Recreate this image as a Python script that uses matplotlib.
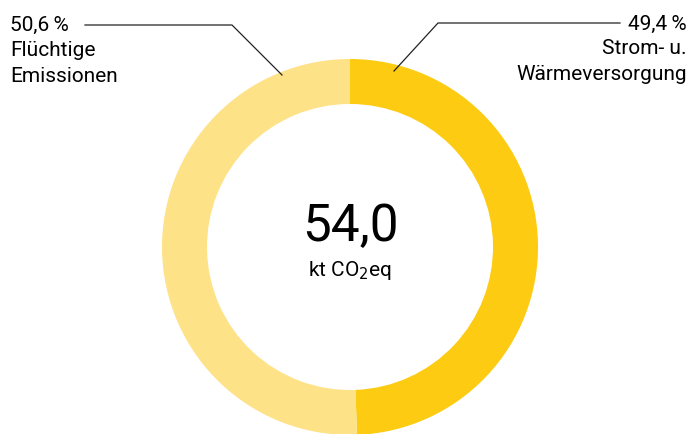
import matplotlib.pyplot as plt

plt.rcParams['font.family'] = ['Roboto', 'DejaVu Sans']

labels = ["Strom- u.\nWärmeversorgung", "Flüchtige\nEmissionen"]
shares = [49.4, 50.6]
colors = ["#FCCB12", "#FEE287"]
total = "54,0"

fig = plt.figure(figsize=(6.93, 4.35), dpi=100)
ax = fig.add_axes([0, 0, 1, 1])

H = 435
cx, cy = 350, H - 248
ax.pie(shares, colors=colors, startangle=90, counterclock=False,
       center=(cx, cy), radius=188,
       wedgeprops=dict(width=45, edgecolor="none"), frame=True)
ax.set_xlim(0, 693)
ax.set_ylim(0, H)
ax.set_aspect("equal")
ax.axis("off")

# Mitte
ax.text(cx, H - 227, total, ha="center", va="center", fontsize=37, color="black")
ax.text(cx, H - 270, "kt CO$_2$eq", ha="center", va="center", fontsize=15, color="black")


def pct(v):
    return str(v).replace(".", ",") + "\u2009%"


# Beschriftungen links
ax.plot([85, 232, 282], [H - 26, H - 26, H - 76], color="#222222", lw=0.9)
ax.text(10, H - 25, pct(shares[1]), ha="left", va="center", fontsize=15)
for i, line in enumerate(labels[1].split("\n")):
    ax.text(10, H - 51 - 26 * i, line, ha="left", va="center", fontsize=15)

# Beschriftungen rechts
ax.plot([620, 438, 394], [H - 24, H - 24, H - 72], color="#222222", lw=0.9)
ax.text(687, H - 24, pct(shares[0]), ha="right", va="center", fontsize=15)
for i, line in enumerate(labels[0].split("\n")):
    ax.text(687, H - 49 - 26 * i, line, ha="right", va="center", fontsize=15)

plt.savefig("out.png", dpi=100)
